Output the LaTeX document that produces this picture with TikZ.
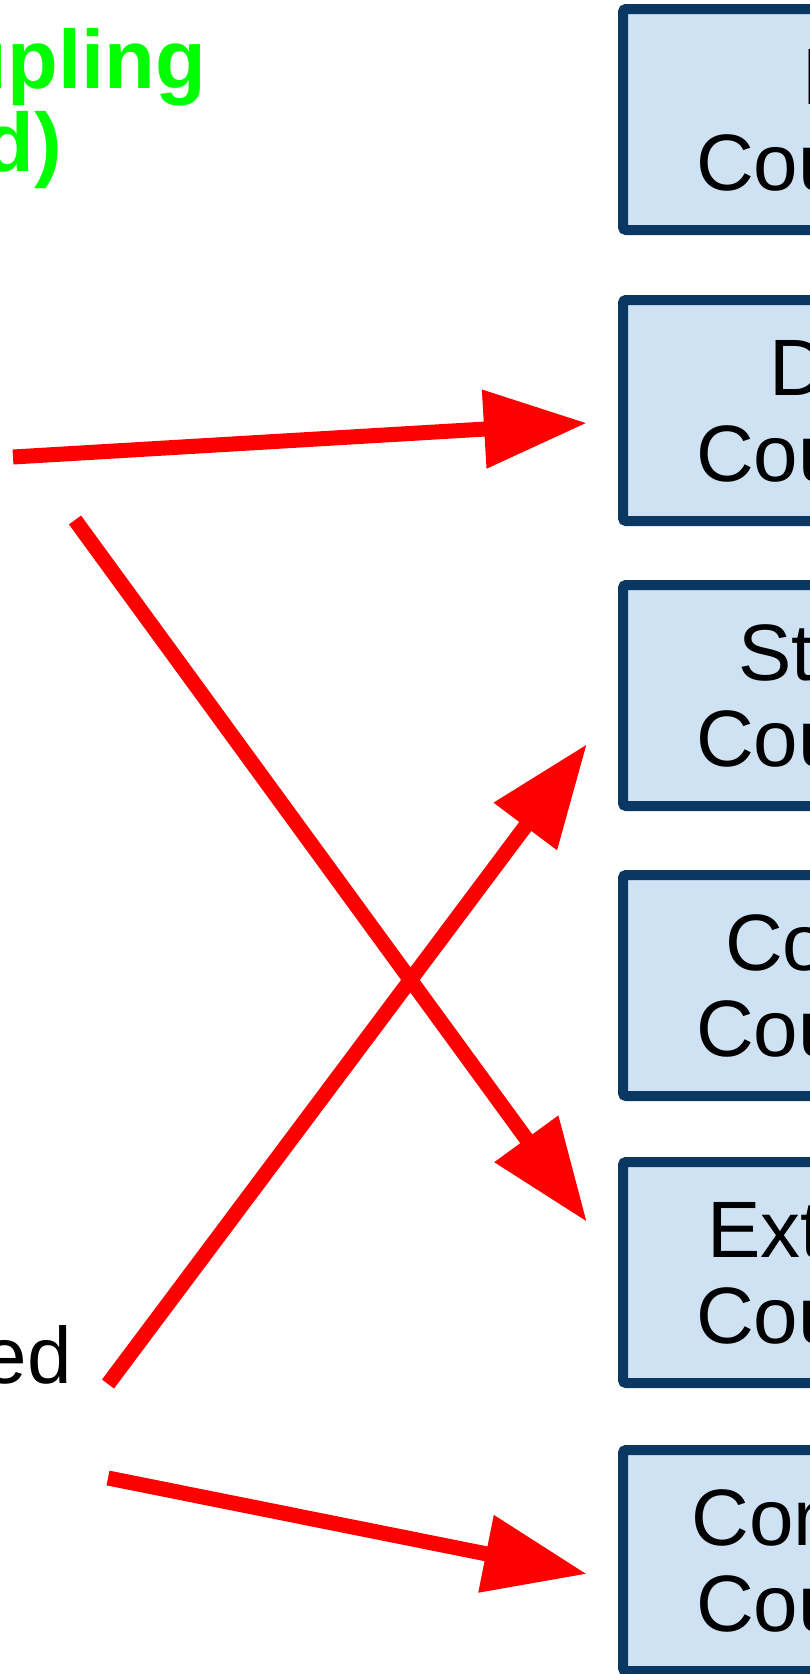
\documentclass[tikz,border=0pt]{standalone}
\usepackage{fontspec}
\setmainfont{Liberation Sans}
\usetikzlibrary{arrows.meta}
\definecolor{boxfill}{RGB}{207,226,243}
\definecolor{boxline}{RGB}{11,56,99}
\definecolor{goodgreen}{RGB}{0,255,0}
\begin{document}
\begin{tikzpicture}[x=1pt,y=-1pt,
  cbox/.style={draw=boxline,fill=boxfill,line width=10pt,rounded corners=3pt,
    minimum width=462pt,minimum height=221pt,anchor=north west,align=center,
    inner sep=0pt,font=\fontsize{80}{86}\selectfont,
    text height=158pt,text depth=17pt},
  redarrow/.style={red,line width=15pt,-{Triangle[length=103pt,width=75pt]}}]
\useasboundingbox (0,0) rectangle (810,1674);
\clip (0,0) rectangle (810,1674);
% left side labels
\node[goodgreen,inner sep=0pt,anchor=base east,font=\bfseries\fontsize{83}{86}\selectfont] (loose1) at (206,88) {Loose Coupling};
\node[goodgreen,inner sep=0pt,anchor=base east,font=\bfseries\fontsize{83}{86}\selectfont] (loose2) at (62,171) {(Desired)};
\node[inner sep=0pt,anchor=base east,font=\fontsize{80}{86}\selectfont] (tight) at (72,1383) {Tightly Coupled};
% coupling boxes
\node[cbox] (none) at (618,4) {No\\Coupling};
\node[cbox] (data) at (618,295) {Data\\Coupling};
\node[cbox] (stamp) at (618,580) {Stamp\\Coupling};
\node[cbox] (control) at (618,870) {Control\\Coupling};
\node[cbox] (external) at (618,1157) {External\\Coupling};
\node[cbox] (common) at (618,1445) {Common\\Coupling};
% arrows
\coordinate (s1) at (13,457);
\coordinate (t1) at (587,423);
\coordinate (s2) at (75,520);
\coordinate (t2) at (587,1222);
\coordinate (s3) at (108,1384);
\coordinate (t3) at (587,744);
\coordinate (s4) at (108,1478);
\coordinate (t4) at (587,1574);
\draw[redarrow] (s1) -- (t1);
\draw[redarrow] (s2) -- (t2);
\draw[redarrow] (s3) -- (t3);
\draw[redarrow] (s4) -- (t4);
\end{tikzpicture}
\end{document}
